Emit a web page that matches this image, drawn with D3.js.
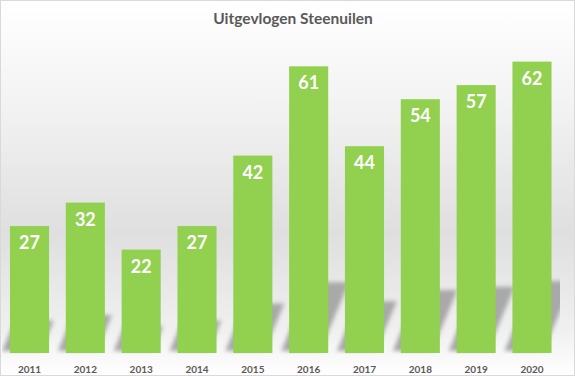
<!DOCTYPE html>
<html>
<head>
<meta charset="utf-8">
<script src="https://cdn.jsdelivr.net/npm/d3@7"></script>
<style>
  body { margin: 0; background: #fff; }
  svg { display: block; }
</style>
</head>
<body>
<div id="chart"></div>
<script>
// data
var years = ["2011", "2012", "2013", "2014", "2015", "2016", "2017", "2018", "2019", "2020"];
var counts = [27, 32, 22, 27, 42, 61, 44, 54, 57, 62];
var title = "Uitgevlogen Steenuilen";

var W = 575, H = 376;
var barColor = "#92D050";
var textGray = "#595959";
var font = "Lato, 'Open Sans', sans-serif";

var data = years.map(function(y, i){ return {year: y, value: counts[i]}; });

var svg = d3.select("#chart").append("svg")
  .attr("width", W)
  .attr("height", H);

var defs = svg.append("defs");

// background gradient (grey band behind the bars)
var grad = defs.append("linearGradient")
  .attr("id", "bg")
  .attr("x1", 0).attr("y1", 0).attr("x2", 0).attr("y2", 1);
grad.append("stop").attr("offset", "0%").attr("stop-color", "#ffffff");
grad.append("stop").attr("offset", "25%").attr("stop-color", "#f4f4f4");
grad.append("stop").attr("offset", "62%").attr("stop-color", "#dfdfdf");
grad.append("stop").attr("offset", "88%").attr("stop-color", "#f0f0f0");
grad.append("stop").attr("offset", "100%").attr("stop-color", "#ffffff");

defs.append("filter").attr("id", "blur")
  .attr("x", "-20%").attr("y", "-20%").attr("width", "140%").attr("height", "140%")
  .append("feGaussianBlur").attr("stdDeviation", 2);

defs.append("clipPath").attr("id", "plotClip")
  .append("rect").attr("x", 2).attr("y", 0).attr("width", 558).attr("height", 354);

svg.append("rect")
  .attr("x", 0.5).attr("y", 0.5)
  .attr("width", W - 1).attr("height", H - 1)
  .attr("fill", "url(#bg)")
  .attr("stroke", "#d9d9d9");

// scales
var x = d3.scaleBand()
  .domain(years)
  .range([1.6, 559.9])
  .paddingInner(0.3)
  .paddingOuter(0.15);

var y = d3.scaleLinear()
  .domain([0, 70])
  .range([353, 24]);

// perspective shadows
var shadows = svg.append("g")
  .attr("clip-path", "url(#plotClip)")
  .append("g")
  .attr("filter", "url(#blur)");

shadows.selectAll("polygon")
  .data(data)
  .enter()
  .append("polygon")
  .attr("points", function(d){
    var x0 = x(d.year) - 8, x1 = x0 + x.bandwidth();
    var base = 351;
    var hs = (y(0) - y(d.value)) * 0.24;
    var s = hs * 0.42;
    return [[x0, base], [x1, base], [x1 + s, base - hs], [x0 + s, base - hs]].join(" ");
  })
  .attr("fill", "#a9a9a9");

// bars
svg.selectAll(".bar")
  .data(data)
  .enter()
  .append("rect")
  .attr("class", "bar")
  .attr("x", function(d){ return x(d.year); })
  .attr("y", function(d){ return y(d.value); })
  .attr("width", x.bandwidth())
  .attr("height", function(d){ return y(0) - y(d.value); })
  .attr("fill", barColor);

// value labels
svg.selectAll(".val")
  .data(data)
  .enter()
  .append("text")
  .attr("class", "val")
  .attr("x", function(d){ return x(d.year) + x.bandwidth() / 2; })
  .attr("y", function(d){ return y(d.value) + 23; })
  .attr("text-anchor", "middle")
  .style("font-family", font)
  .style("font-weight", "bold")
  .style("font-size", "18px")
  .style("fill", "#ffffff")
  .text(function(d){ return d.value; });

// x axis labels
var xAxis = svg.append("g")
  .attr("transform", "translate(0," + y(0) + ")")
  .call(d3.axisBottom(x).tickSize(0).tickPadding(0));
xAxis.select(".domain").remove();
xAxis.selectAll("text")
  .attr("y", 20)
  .attr("dy", null)
  .style("font-family", font)
  .style("font-weight", "bold")
  .style("font-size", "10px")
  .style("fill", textGray);

// title
svg.append("text")
  .attr("x", 293)
  .attr("y", 24)
  .attr("text-anchor", "middle")
  .style("font-family", font)
  .style("font-weight", "bold")
  .style("font-size", "15.5px")
  .style("fill", textGray)
  .text(title);
</script>
</body>
</html>
